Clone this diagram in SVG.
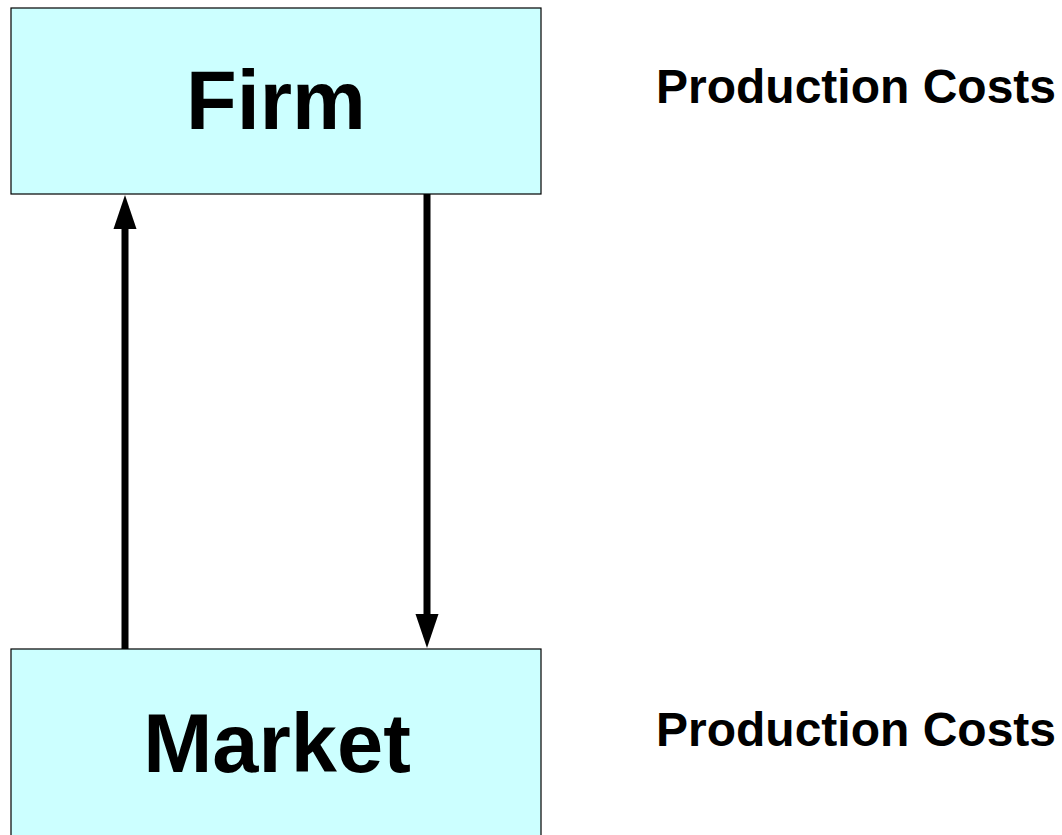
<svg xmlns="http://www.w3.org/2000/svg" width="1062" height="835" viewBox="0 0 1062 835">
  <style>
    .box { fill: #ccffff; stroke: #000000; stroke-width: 1.2; }
    .title { font-family: "Liberation Sans", Arial, sans-serif; font-weight: bold; font-size: 83px; fill: #000000; text-anchor: middle; }
    .label { font-family: "Liberation Sans", Arial, sans-serif; font-weight: bold; font-size: 48px; fill: #000000; }
    .flow { stroke: #000000; stroke-width: 7; fill: none; }
    .head { fill: #000000; }
  </style>
  <rect width="1062" height="835" fill="#ffffff"/>
  <g id="firm">
    <rect class="box" x="11" y="8" width="530" height="186"/>
    <text class="title" x="276" y="129">Firm</text>
  </g>
  <g id="market">
    <rect class="box" x="11" y="649" width="530" height="200"/>
    <text class="title" x="277" y="772">Market</text>
  </g>
  <g id="cost-labels">
    <text class="label" x="656" y="103">Production Costs</text>
    <text class="label" x="656" y="746">Production Costs</text>
  </g>
  <g id="connectors">
    <line class="flow" x1="125" y1="649" x2="125" y2="229"/>
    <path class="head" d="M125,195 L113.5,229 L136.5,229 Z"/>
    <line class="flow" x1="427" y1="194" x2="427" y2="614"/>
    <path class="head" d="M427,648 L415.5,614 L438.5,614 Z"/>
  </g>
</svg>
